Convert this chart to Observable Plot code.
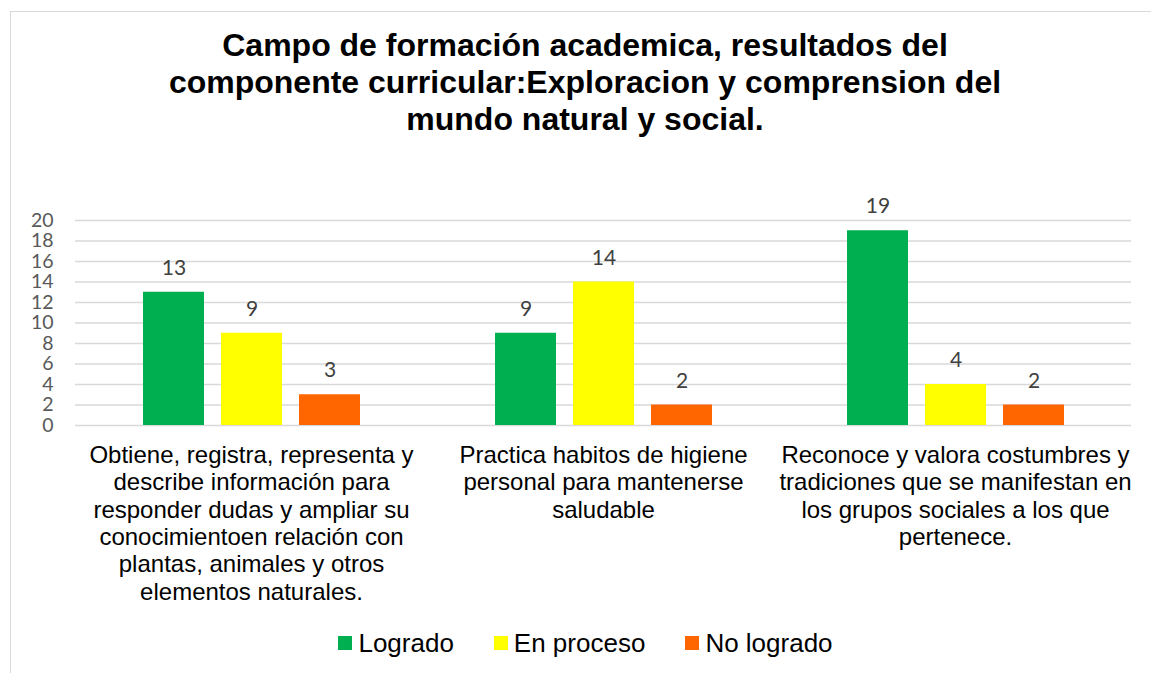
<!DOCTYPE html>
<html><head><meta charset="utf-8">
<script src="https://cdn.jsdelivr.net/npm/d3@7"></script>
<script src="https://cdn.jsdelivr.net/npm/@observablehq/plot@0.6"></script>
<style>
body{margin:0;background:#fff;width:1151px;height:673px;overflow:hidden;position:relative;font-family:"Liberation Sans",Arial,sans-serif;}
#frame{position:absolute;left:10px;top:11px;width:1300px;height:800px;border-left:1px solid #d9d9d9;border-top:1px solid #d9d9d9;}
#title{position:absolute;left:85px;width:1000px;top:27px;text-align:center;font-weight:bold;font-size:32px;line-height:37px;color:#000;}
#chart{position:absolute;left:0;top:160px;}
#legend{position:absolute;top:626px;left:0;width:1171px;display:flex;justify-content:center;font-size:26px;line-height:34px;color:#000;}
.item{display:flex;align-items:center;margin:0 20px;}
.sw{width:14px;height:14px;margin-right:6px;}
</style>
</head><body>
<div id="frame"></div>
<div id="title">Campo de formación academica, resultados del<br>componente curricular:Exploracion y comprension del<br>mundo natural y social.</div>
<div id="chart"></div>
<div id="legend"></div>
<script>
const categories = [
  "Obtiene, registra, representa y describe información para responder dudas y ampliar su conocimientoen relación con plantas, animales y otros elementos naturales.",
  "Practica habitos de higiene personal para mantenerse saludable",
  "Reconoce y valora costumbres y tradiciones que se manifestan en los grupos sociales a los que pertenece."
];
const tickLabels = [
  "Obtiene, registra, representa y\ndescribe información para\nresponder dudas y ampliar su\nconocimientoen relación con\nplantas, animales y otros\nelementos naturales.",
  "Practica habitos de higiene\npersonal para mantenerse\nsaludable",
  "Reconoce y valora costumbres y\ntradiciones que se manifestan en\nlos grupos sociales a los que\npertenece."
];
const series = ["Logrado", "En proceso", "No logrado"];
const logrado = [13, 9, 19];
const enProceso = [9, 14, 4];
const noLogrado = [3, 2, 2];
const colors = ["#00B050", "#FFFF00", "#FF6600"];
const yTicks = [0, 2, 4, 6, 8, 10, 12, 14, 16, 18, 20];

const values = [logrado, enProceso, noLogrado];
const data = categories.flatMap((c, i) => series.map((s, j) => ({cat: c, serie: s, value: values[j][i]})));

const chart = Plot.plot({
  width: 1151, height: 460,
  marginTop: 60, marginBottom: 195, marginLeft: 74, marginRight: 19,
  style: {fontFamily: "'Liberation Sans', Arial, sans-serif", background: "transparent", overflow: "visible"},
  fx: {domain: categories, padding: 0, label: null},
  x: {domain: series, paddingInner: 0.22, paddingOuter: 0.85, axis: null},
  y: {domain: [0, 20], label: null, axis: null},
  color: {domain: series, range: colors},
  marks: [
    Plot.gridY(yTicks, {stroke: "#d9d9d9", strokeOpacity: 1, strokeWidth: 1.5}),
    Plot.axisY({ticks: yTicks, tickSize: 0, tickPadding: 22, fontSize: 19.5, fontFamily: "Lato", fill: "#595959", label: null}),
    Plot.axisFx({anchor: "bottom", tickSize: 0, tickPadding: 18, tickFormat: d => tickLabels[categories.indexOf(d)], fontSize: 24, lineHeight: 1.14, lineAnchor: "top", fill: "#000", label: null}),
    Plot.barY(data, {fx: "cat", x: "serie", y: "value", fill: "serie"}),
    Plot.text(data, {fx: "cat", x: "serie", y: "value", text: "value", dy: -24, fontSize: 21, fontFamily: "Lato", fill: "#404040"})
  ]
});
document.getElementById("chart").appendChild(chart);

const legend = document.getElementById("legend");
series.forEach((s, i) => {
  const it = document.createElement("div"); it.className = "item";
  const sw = document.createElement("div"); sw.className = "sw"; sw.style.background = colors[i];
  const t = document.createElement("span"); t.textContent = s;
  it.appendChild(sw); it.appendChild(t); legend.appendChild(it);
});
</script>
</body></html>
